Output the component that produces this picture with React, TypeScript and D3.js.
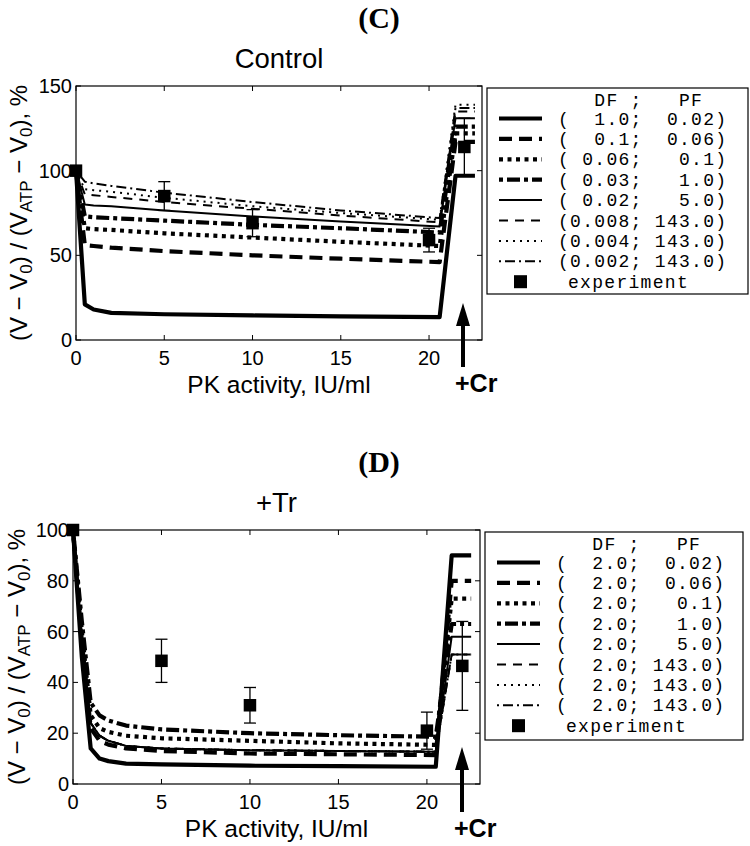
import React from "react";
import * as d3 from "d3";

// ---------- data ----------
const xTickValues = [0, 5, 10, 15, 20];
const yTicksC = [0, 50, 100, 150];
const yTicksD = [0, 20, 40, 60, 80, 100];

// model curves, panel C (Control)
const modelXC = [0, 0.5, 1, 2, 5, 10, 15, 20.6, 21.5, 22.6];
const c1 = [100, 21, 18, 16, 15.2, 14.5, 14, 13.5, 97, 97];
const c2 = [100, 56, 55.5, 54.5, 52.5, 50, 48, 46, 117, 117];
const c3 = [100, 66, 65.5, 65, 63, 60.5, 58, 55.5, 122, 122];
const c4 = [100, 73, 72.5, 72, 70.5, 68, 66, 63.5, 126, 126];
const c5 = [100, 80, 79.5, 79, 76.5, 73, 70, 67, 131, 131];
const c6 = [100, 86, 85.5, 84.5, 81.5, 77.5, 73.5, 69.5, 135, 135];
const c7 = [100, 89, 88.5, 87.5, 84, 79, 75, 71, 139, 139];
const c8 = [100, 93.5, 92.5, 91, 87, 81.5, 76.5, 72, 137, 137];
const curvesC = [c1, c2, c3, c4, c5, c6, c7, c8];

// model curves, panel D (+Tr)
const modelXD = [0, 0.5, 1, 1.5, 2, 3, 5, 10, 15, 20.5, 21.4, 22.5];
const d1 = [100, 50, 14, 10, 9, 8, 7.7, 7.2, 7, 6.8, 90, 90];
const d2 = [100, 56, 22, 17, 15.5, 14, 13, 12, 11.7, 11.4, 80, 80];
const d3v = [100, 60, 27, 22, 20.5, 19, 18, 17, 16, 15.4, 73, 73];
const d4 = [100, 64, 32, 27, 25, 23, 21.5, 20, 19.2, 18.6, 63, 63];
const d5 = [100, 58, 24, 19, 17, 15, 14, 13.3, 13, 12.7, 58, 58];
const d6 = [100, 58, 24, 19, 17, 15, 14, 13.3, 13, 12.7, 51, 51];
const d7 = [100, 58, 24, 19, 17, 15, 14, 13.3, 13, 12.7, 51, 51];
const d8 = [100, 58, 24, 19, 17, 15, 14, 13.3, 13, 12.7, 51, 51];
const curvesD = [d1, d2, d3v, d4, d5, d6, d7, d8];

// experiment
const expX = [0, 5, 10, 20, 22];
const expC = [100, 85, 69, 59, 114];
const errC = [0, 8.5, 8, 7, 17];
const expD = [100, 48.5, 31, 21, 46.5];
const errD = [0, 8.5, 7, 7.3, 17.5];

// legend labels
const dfC = ["1.0", "0.1", "0.06", "0.03", "0.02", "0.008", "0.004", "0.002"];
const pfC = ["0.02", "0.06", "0.1", "1.0", "5.0", "143.0", "143.0", "143.0"];
const dfD = ["2.0", "2.0", "2.0", "2.0", "2.0", "2.0", "2.0", "2.0"];
const pfD = ["0.02", "0.06", "0.1", "1.0", "5.0", "143.0", "143.0", "143.0"];

// ---------- styles ----------
const LINE_STYLES = [
  { w: 4.2, dash: "" },
  { w: 4.2, dash: "13 7" },
  { w: 4.2, dash: "4 4.5" },
  { w: 4.2, dash: "4 4 13 4" },
  { w: 2, dash: "" },
  { w: 2, dash: "9 7" },
  { w: 2, dash: "2 5" },
  { w: 2, dash: "2 4 10 4" },
];

const SANS = "'Liberation Sans', Arial, Helvetica, sans-serif";
const SERIF = "'Liberation Serif', 'Times New Roman', serif";
const MONO = "'Liberation Mono', 'Courier New', monospace";

type Geo = {
  left: number; right: number; top: number; bottom: number; yMax: number;
};

function Panel(props: {
  geo: Geo; yTicks: number[]; modelX: number[]; curves: number[][];
  ey: number[]; eerr: number[]; title: string; letter: string;
  labelX: number; arrowTip: number; arrowBottom: number; arrowX: number;
}) {
  const { geo, yTicks, modelX, curves, ey, eerr } = props;
  const x = d3.scaleLinear().domain([0, 23]).range([geo.left, geo.right]);
  const y = d3.scaleLinear().domain([0, geo.yMax]).range([geo.bottom, geo.top]);
  const line = d3.line<[number, number]>().x((d) => x(d[0])).y((d) => y(d[1]));
  const cx = (geo.left + geo.right) / 2;
  const tl = 5;
  const ms = 12.5;
  const capW = 6;
  const lblCY = (geo.top + geo.bottom) / 2;
  return (
    <g>
      <text x={379} y={geo.top - 58} textAnchor="middle" fontFamily={SERIF} fontWeight="bold" fontSize={30}>{props.letter}</text>
      <text x={cx} y={geo.top - 18} textAnchor="middle" fontFamily={SANS} fontSize={27.5}>{props.title}</text>
      {/* model curves */}
      {curves.map((c, i) => (
        <path key={i} d={line(modelX.map((xv, j) => [xv, c[j]] as [number, number])) || ""}
          fill="none" stroke="#000" strokeWidth={LINE_STYLES[i].w}
          strokeDasharray={LINE_STYLES[i].dash || undefined} strokeLinejoin="round" />
      ))}
      {/* experiment */}
      {expX.map((xv, i) => (
        <g key={"e" + i}>
          {eerr[i] > 0 && (
            <g stroke="#000" strokeWidth={1.3}>
              <line x1={x(xv)} x2={x(xv)} y1={y(ey[i] - eerr[i])} y2={y(ey[i] + eerr[i])} />
              <line x1={x(xv) - capW} x2={x(xv) + capW} y1={y(ey[i] - eerr[i])} y2={y(ey[i] - eerr[i])} />
              <line x1={x(xv) - capW} x2={x(xv) + capW} y1={y(ey[i] + eerr[i])} y2={y(ey[i] + eerr[i])} />
            </g>
          )}
          <rect x={x(xv) - ms / 2} y={y(ey[i]) - ms / 2} width={ms} height={ms} fill="#000" />
        </g>
      ))}
      {/* box */}
      <rect x={geo.left} y={geo.top} width={geo.right - geo.left} height={geo.bottom - geo.top} fill="none" stroke="#000" strokeWidth={1.2} />
      {xTickValues.map((t) => (
        <g key={"xt" + t}>
          <line x1={x(t)} x2={x(t)} y1={geo.bottom} y2={geo.bottom - tl} stroke="#000" />
          <line x1={x(t)} x2={x(t)} y1={geo.top} y2={geo.top + tl} stroke="#000" />
          <text x={x(t)} y={geo.bottom + 25} textAnchor="middle" fontFamily={SANS} fontSize={20}>{t}</text>
        </g>
      ))}
      {yTicks.map((t) => (
        <g key={"yt" + t}>
          <line x1={geo.left} x2={geo.left + tl} y1={y(t)} y2={y(t)} stroke="#000" />
          <line x1={geo.right} x2={geo.right - tl} y1={y(t)} y2={y(t)} stroke="#000" />
          <text x={geo.left - 4} y={y(t) + 7} textAnchor="end" fontFamily={SANS} fontSize={20}>{t}</text>
        </g>
      ))}
      <text x={cx} y={geo.bottom + 53} textAnchor="middle" fontFamily={SANS} fontSize={24.5}>PK activity, IU/ml</text>
      <text transform={`translate(${props.labelX},${lblCY}) rotate(-90)`} textAnchor="middle" fontFamily={SANS} fontSize={24}>
        (V − V<tspan fontSize={17} dy={5}>0</tspan><tspan dy={-5}>) / (V</tspan><tspan fontSize={17} dy={5}>ATP</tspan><tspan dy={-5}> − V</tspan><tspan fontSize={17} dy={5}>0</tspan><tspan dy={-5}>), %</tspan>
      </text>
      {/* arrow */}
      <line x1={props.arrowX} x2={props.arrowX} y1={props.arrowBottom} y2={props.arrowTip + 20} stroke="#000" strokeWidth={4} />
      <path d={`M${props.arrowX},${props.arrowTip} L${props.arrowX - 7},${props.arrowTip + 23} L${props.arrowX + 7},${props.arrowTip + 23} Z`} fill="#000" />
      <text x={props.arrowX - 8} y={props.arrowBottom + 25} fontFamily={SANS} fontWeight="bold" fontSize={25}>+Cr</text>
    </g>
  );
}

function Legend(props: { x0: number; y0: number; w: number; h: number; df: string[]; pf: string[] }) {
  const { x0, y0, w, h, df, pf } = props;
  const rowY = (i: number) => y0 + 30.5 + 20.4 * i;
  const textX = x0 + 71;
  const fs = 18;
  const ls = 1.3;
  return (
    <g>
      <rect x={x0} y={y0} width={w} height={h} fill="#fff" stroke="#000" strokeWidth={1.2} />
      <text x={textX} y={y0 + 18} fontFamily={MONO} fontSize={fs} letterSpacing={ls} xmlSpace="preserve" style={{ whiteSpace: "pre" }}>{"   DF ;   PF"}</text>
      {df.map((d, i) => (
        <g key={i}>
          <line x1={x0 + 12} x2={x0 + 55} y1={rowY(i)} y2={rowY(i)} stroke="#000"
            strokeWidth={LINE_STYLES[i].w} strokeDasharray={LINE_STYLES[i].dash || undefined} />
          <text x={textX} y={rowY(i) + 6} fontFamily={MONO} fontSize={fs} letterSpacing={ls} xmlSpace="preserve" style={{ whiteSpace: "pre" }}>
            {"(" + d.padStart(5, " ") + ";" + pf[i].padStart(6, " ") + ")"}
          </text>
        </g>
      ))}
      <rect x={x0 + 27} y={rowY(8) - 6.5} width={13} height={13} fill="#000" />
      <text x={textX + 10} y={rowY(8) + 6} fontFamily={MONO} fontSize={fs} letterSpacing={ls}>experiment</text>
    </g>
  );
}

export default function App() {
  const geoC: Geo = { left: 76, right: 482, top: 86, bottom: 340, yMax: 150 };
  const geoD: Geo = { left: 73, right: 480, top: 530, bottom: 784, yMax: 100 };
  return (
    <svg width={750} height={846} style={{ position: "absolute", left: 0, top: 0, background: "#fff" }}>
      <rect width={750} height={846} fill="#fff" />
      <Panel geo={geoC} yTicks={yTicksC} modelX={modelXC} curves={curvesC} ey={expC} eerr={errC}
        title="Control" letter="(C)" labelX={27} arrowTip={303} arrowBottom={367} arrowX={463} />
      <Legend x0={487} y0={88} w={261} h={206} df={dfC} pf={pfC} />
      <Panel geo={geoD} yTicks={yTicksD} modelX={modelXD} curves={curvesD} ey={expD} eerr={errD}
        title="+Tr" letter="(D)" labelX={25} arrowTip={747} arrowBottom={812} arrowX={462} />
      <Legend x0={485} y0={532} w={258} h={208} df={dfD} pf={pfD} />
    </svg>
  );
}
